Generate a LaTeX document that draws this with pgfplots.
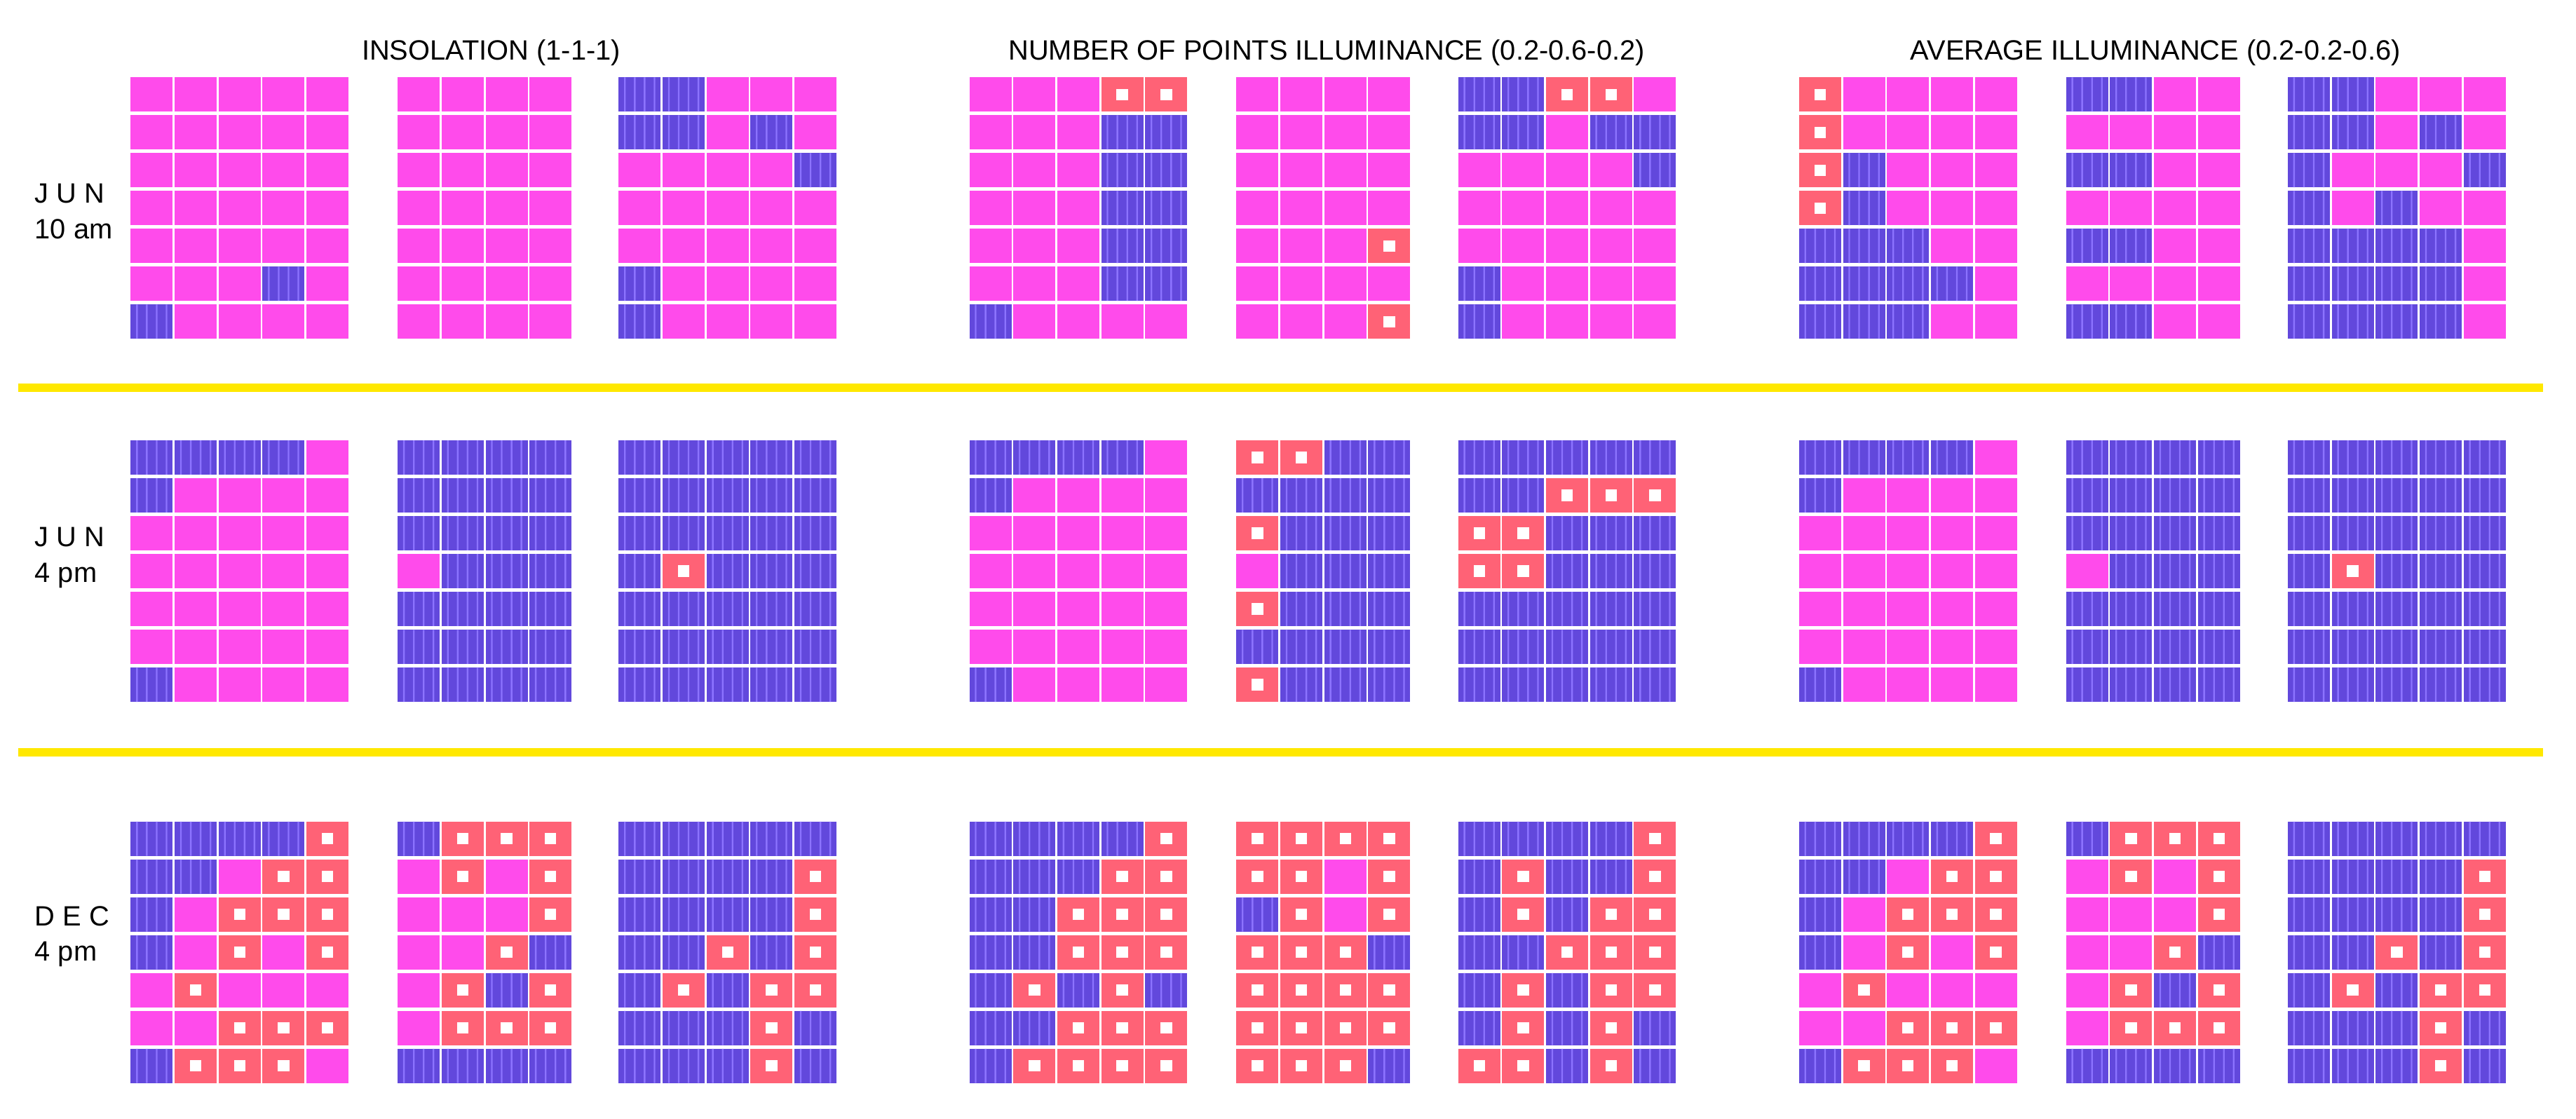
\documentclass[border=0pt]{standalone}
\usepackage{pgfplots}
\pgfplotsset{compat=1.18}
\usepackage{pgfplotstable}
\usepackage{fontspec}
\setmainfont{Liberation Sans}

\definecolor{cpink}{RGB}{255,75,235}
\definecolor{cblue}{RGB}{98,72,220}
\definecolor{cstripe}{RGB}{140,115,255}
\definecolor{cred}{RGB}{255,98,118}
\definecolor{cyellow}{RGB}{255,232,0}

\pgfdeclareplotmark{cP}{%
  \pgfpathrectangle{\pgfpoint{-12.8pt}{-10.4pt}}{\pgfpoint{25.6pt}{20.8pt}}%
  \pgfsetfillcolor{cpink}\pgfusepathqfill}
\pgfdeclareplotmark{cB}{%
  \pgfpathrectangle{\pgfpoint{-12.8pt}{-10.4pt}}{\pgfpoint{25.6pt}{20.8pt}}%
  \pgfsetfillcolor{cblue}\pgfusepathqfill
  \pgfpathrectangle{\pgfpoint{-9.5pt}{-10.4pt}}{\pgfpoint{1pt}{20.8pt}}%
  \pgfpathrectangle{\pgfpoint{-3.5pt}{-10.4pt}}{\pgfpoint{1pt}{20.8pt}}%
  \pgfpathrectangle{\pgfpoint{2.5pt}{-10.4pt}}{\pgfpoint{1pt}{20.8pt}}%
  \pgfpathrectangle{\pgfpoint{8.5pt}{-10.4pt}}{\pgfpoint{1pt}{20.8pt}}%
  \pgfsetfillcolor{cstripe}\pgfusepathqfill}
\pgfdeclareplotmark{cR}{%
  \pgfpathrectangle{\pgfpoint{-12.8pt}{-10.4pt}}{\pgfpoint{25.6pt}{20.8pt}}%
  \pgfsetfillcolor{cred}\pgfusepathqfill
  \pgfpathrectangle{\pgfpoint{-3.5pt}{-3.5pt}}{\pgfpoint{7pt}{7pt}}%
  \pgfsetfillcolor{white}\pgfusepathqfill}

\pgfplotsset{cellplot/.style={scatter, only marks,
  scatter src=explicit symbolic,
  scatter/classes={P={mark=cP},B={mark=cB},R={mark=cR}}}}

\newcommand\cellgrid[4]{%
  \pgfplotsinvokeforeach{0,...,#4}{%
    \addplot[cellplot] table[x expr={#2+##1*26.75+13.375},
      y expr={#3+\thisrow{r}*23.05+11.5}, meta=c##1] {#1};
  }%
}

% ---------- JUN 10 am ----------
\pgfplotstableread{
r c0 c1 c2 c3 c4
0 P P P P P
1 P P P P P
2 P P P P P
3 P P P P P
4 P P P P P
5 P P P B P
6 B P P P P
}\rAa
\pgfplotstableread{
r c0 c1 c2 c3
0 P P P P
1 P P P P
2 P P P P
3 P P P P
4 P P P P
5 P P P P
6 P P P P
}\rAb
\pgfplotstableread{
r c0 c1 c2 c3 c4
0 B B P P P
1 B B P B P
2 P P P P B
3 P P P P P
4 P P P P P
5 B P P P P
6 B P P P P
}\rAc
\pgfplotstableread{
r c0 c1 c2 c3 c4
0 P P P R R
1 P P P B B
2 P P P B B
3 P P P B B
4 P P P B B
5 P P P B B
6 B P P P P
}\rAd
\pgfplotstableread{
r c0 c1 c2 c3
0 P P P P
1 P P P P
2 P P P P
3 P P P P
4 P P P R
5 P P P P
6 P P P R
}\rAe
\pgfplotstableread{
r c0 c1 c2 c3 c4
0 B B R R P
1 B B P B B
2 P P P P B
3 P P P P P
4 P P P P P
5 B P P P P
6 B P P P P
}\rAf
\pgfplotstableread{
r c0 c1 c2 c3 c4
0 R P P P P
1 R P P P P
2 R B P P P
3 R B P P P
4 B B B P P
5 B B B B P
6 B B B P P
}\rAg
\pgfplotstableread{
r c0 c1 c2 c3
0 B B P P
1 P P P P
2 B B P P
3 P P P P
4 B B P P
5 P P P P
6 B B P P
}\rAh
\pgfplotstableread{
r c0 c1 c2 c3 c4
0 B B P P P
1 B B P B P
2 B P P P B
3 B P B P P
4 B B B B P
5 B B B B P
6 B B B B P
}\rAi

% ---------- JUN 4 pm ----------
\pgfplotstableread{
r c0 c1 c2 c3 c4
0 B B B B P
1 B P P P P
2 P P P P P
3 P P P P P
4 P P P P P
5 P P P P P
6 B P P P P
}\rBa
\pgfplotstableread{
r c0 c1 c2 c3
0 B B B B
1 B B B B
2 B B B B
3 P B B B
4 B B B B
5 B B B B
6 B B B B
}\rBb
\pgfplotstableread{
r c0 c1 c2 c3 c4
0 B B B B B
1 B B B B B
2 B B B B B
3 B R B B B
4 B B B B B
5 B B B B B
6 B B B B B
}\rBc
\pgfplotstableread{
r c0 c1 c2 c3
0 R R B B
1 B B B B
2 R B B B
3 P B B B
4 R B B B
5 B B B B
6 R B B B
}\rBe
\pgfplotstableread{
r c0 c1 c2 c3 c4
0 B B B B B
1 B B R R R
2 R R B B B
3 R R B B B
4 B B B B B
5 B B B B B
6 B B B B B
}\rBf

% ---------- DEC 4 pm ----------
\pgfplotstableread{
r c0 c1 c2 c3 c4
0 B B B B R
1 B B P R R
2 B P R R R
3 B P R P R
4 P R P P P
5 P P R R R
6 B R R R P
}\rCa
\pgfplotstableread{
r c0 c1 c2 c3
0 B R R R
1 P R P R
2 P P P R
3 P P R B
4 P R B R
5 P R R R
6 B B B B
}\rCb
\pgfplotstableread{
r c0 c1 c2 c3 c4
0 B B B B B
1 B B B B R
2 B B B B R
3 B B R B R
4 B R B R R
5 B B B R B
6 B B B R B
}\rCc
\pgfplotstableread{
r c0 c1 c2 c3 c4
0 B B B B R
1 B B B R R
2 B B R R R
3 B B R R R
4 B R B R B
5 B B R R R
6 B R R R R
}\rCd
\pgfplotstableread{
r c0 c1 c2 c3
0 R R R R
1 R R P R
2 B R P R
3 R R R B
4 R R R R
5 R R R R
6 R R R B
}\rCe
\pgfplotstableread{
r c0 c1 c2 c3 c4
0 B B B B R
1 B R B B R
2 B R B R R
3 B B R R R
4 B R B R R
5 B R B R B
6 R R B R B
}\rCf

\begin{document}
\begin{tikzpicture}
\begin{axis}[width=1568pt, height=681pt, scale only axis,
  xmin=0, xmax=1568, ymin=0, ymax=681, y dir=reverse,
  hide axis, clip=false]

% separators
\addplot[cyellow, line width=5pt, mark=none] coordinates {(11,236) (1548,236)};
\addplot[cyellow, line width=5pt, mark=none] coordinates {(11,458) (1548,458)};

% row 1
\cellgrid{\rAa}{79}{46}{4}
\cellgrid{\rAb}{241.5}{46}{3}
\cellgrid{\rAc}{376}{46}{4}
\cellgrid{\rAd}{589.5}{46}{4}
\cellgrid{\rAe}{752}{46}{3}
\cellgrid{\rAf}{887}{46}{4}
\cellgrid{\rAg}{1094.5}{46}{4}
\cellgrid{\rAh}{1257}{46}{3}
\cellgrid{\rAi}{1392}{46}{4}
% row 2
\cellgrid{\rBa}{79}{267}{4}
\cellgrid{\rBb}{241.5}{267}{3}
\cellgrid{\rBc}{376}{267}{4}
\cellgrid{\rBa}{589.5}{267}{4}
\cellgrid{\rBe}{752}{267}{3}
\cellgrid{\rBf}{887}{267}{4}
\cellgrid{\rBa}{1094.5}{267}{4}
\cellgrid{\rBb}{1257}{267}{3}
\cellgrid{\rBc}{1392}{267}{4}
% row 3
\cellgrid{\rCa}{79}{499}{4}
\cellgrid{\rCb}{241.5}{499}{3}
\cellgrid{\rCc}{376}{499}{4}
\cellgrid{\rCd}{589.5}{499}{4}
\cellgrid{\rCe}{752}{499}{3}
\cellgrid{\rCf}{887}{499}{4}
\cellgrid{\rCa}{1094.5}{499}{4}
\cellgrid{\rCb}{1257}{499}{3}
\cellgrid{\rCc}{1392}{499}{4}

% titles
\node[anchor=base, font=\fontsize{17}{20}\selectfont] at (axis cs:299,36.5) {INSOLATION (1-1-1)};
\node[anchor=base, font=\fontsize{17}{20}\selectfont] at (axis cs:807.5,36.5) {NUMBER OF POINTS ILLUMINANCE (0.2-0.6-0.2)};
\node[anchor=base, font=\fontsize{17}{20}\selectfont] at (axis cs:1312,36.5) {AVERAGE ILLUMINANCE (0.2-0.2-0.6)};

% row labels
\node[anchor=base west, inner sep=0pt, font=\fontsize{17}{20}\selectfont] at (axis cs:21,123.6) {J U N};
\node[anchor=base west, inner sep=0pt, font=\fontsize{17}{20}\selectfont] at (axis cs:21,145.5) {10 am};
\node[anchor=base west, inner sep=0pt, font=\fontsize{17}{20}\selectfont] at (axis cs:21,332.5) {J U N};
\node[anchor=base west, inner sep=0pt, font=\fontsize{17}{20}\selectfont] at (axis cs:21,354.5) {4 pm};
\node[anchor=base west, inner sep=0pt, font=\fontsize{17}{20}\selectfont] at (axis cs:21,563.5) {D E C};
\node[anchor=base west, inner sep=0pt, font=\fontsize{17}{20}\selectfont] at (axis cs:21,584.7) {4 pm};
\end{axis}
\path (current axis.south west) rectangle (current axis.north east);
\end{tikzpicture}
\end{document}
